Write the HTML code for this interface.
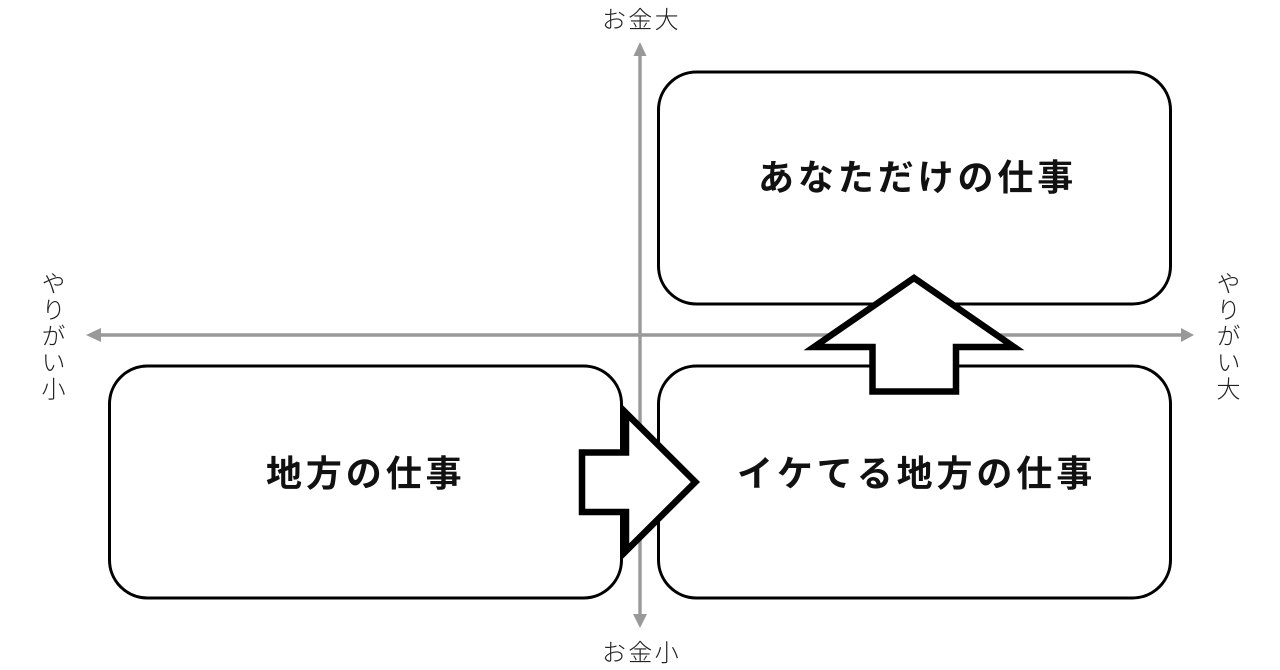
<!DOCTYPE html>
<html lang="ja">
<head>
<meta charset="utf-8">
<style>
html,body{margin:0;padding:0;background:#fff}
body{width:1280px;height:670px;overflow:hidden;position:relative}
svg{position:absolute;left:0;top:0}
.t{position:absolute;white-space:nowrap;color:#111;font-family:"Liberation Sans","Noto Sans CJK JP",sans-serif;line-height:1}
.big{font-size:36px;font-weight:700;letter-spacing:3.9px}
.sm{font-size:24px;font-weight:300;letter-spacing:2.3px;color:#222}
.v{writing-mode:vertical-rl}
</style>
</head>
<body>
<svg width="1280" height="670" viewBox="0 0 1280 670">
  <g stroke="#999" stroke-width="3.4" fill="#999">
    <line x1="640" y1="52" x2="640" y2="618"/>
    <line x1="96" y1="335" x2="1184" y2="335"/>
    <polygon stroke="none" points="640,42 633.5,56 646.5,56"/>
    <polygon stroke="none" points="640,628 633,614 647,614"/>
    <polygon stroke="none" points="86,335 101,328 101,342"/>
    <polygon stroke="none" points="1194,335 1181,328 1181,342"/>
  </g>
  <g fill="none" stroke="#000" stroke-width="3">
    <rect x="658.5" y="72" width="512" height="232" rx="38" ry="38"/>
    <rect x="658.5" y="366" width="512" height="232" rx="38" ry="38"/>
    <rect x="109.5" y="366" width="512" height="232" rx="38" ry="38"/>
  </g>
  <polygon fill="#fff" stroke="#000" stroke-width="6.5" stroke-miterlimit="10"
    points="582,452.5 626,452.5 626,413 695.4,482 626,551 626,512 582,512"/>
  <polygon fill="#fff" stroke="#000" stroke-width="6.5" stroke-miterlimit="10"
    points="872.5,391.5 872.5,347 814,347 914,278 1014,347 956,347 956,391.5"/>
</svg>
<div class="t big" style="left:758px;top:160px">あなただけの仕事</div>
<div class="t big" style="left:266px;top:456px">地方の仕事</div>
<div class="t big" style="left:737px;top:456px">イケてる地方の仕事</div>
<div class="t sm" style="left:602px;top:9px">お金大</div>
<div class="t sm" style="left:602px;top:642px">お金小</div>
<div class="t sm v" style="left:38px;top:271px">やりがい小</div>
<div class="t sm v" style="left:1213px;top:271px">やりがい大</div>
</body>
</html>
